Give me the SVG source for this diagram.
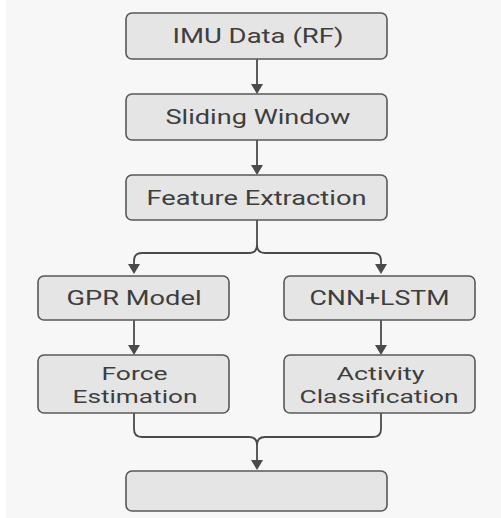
<svg xmlns="http://www.w3.org/2000/svg" width="501" height="518" viewBox="0 0 501 518">
  <style>
    .box { fill: #e5e5e5; stroke: #585858; stroke-width: 1.6; }
    .lbl { font-family: Roboto, "Liberation Sans", sans-serif; font-size: 20px; fill: #3e3e3e; text-anchor: middle; }
    .lbl2 { font-size: 19px; }
    .wire { fill: none; stroke: #4a4a4a; stroke-width: 1.8; }
    .head { fill: #4a4a4a; }
  </style>
  <rect x="0" y="0" width="501" height="518" fill="#f7f7f7"/>
  <rect x="0" y="0" width="6" height="518" fill="#ffffff"/>

  <g id="connectors">
    <path class="wire" d="M257,59 V85"/>
    <path class="head" d="M251,84 L263,84 L257,94 Z"/>
    <path class="wire" d="M257,140 V166"/>
    <path class="head" d="M251,165 L263,165 L257,175 Z"/>
    <!-- split from Feature Extraction -->
    <path class="wire" d="M257,220 V245 Q257,253 249,253 H142 Q134,253 134,261 V265"/>
    <path class="wire" d="M257,245 Q257,253 265,253 H373 Q381,253 381,261 V265"/>
    <path class="head" d="M128,264 L140,264 L134,274 Z"/>
    <path class="head" d="M375,264 L387,264 L381,274 Z"/>
    <!-- models to results -->
    <path class="wire" d="M134,320 V346"/>
    <path class="head" d="M128,345 L140,345 L134,355 Z"/>
    <path class="wire" d="M381,320 V346"/>
    <path class="head" d="M375,345 L387,345 L381,355 Z"/>
    <!-- merge into final -->
    <path class="wire" d="M134,413 V429 Q134,437 142,437 H249 Q257,437 257,445 V461"/>
    <path class="wire" d="M381,413 V429 Q381,437 373,437 H265 Q257,437 257,445"/>
    <path class="head" d="M251,460 L263,460 L257,470 Z"/>
  </g>

  <g id="imu-data">
    <rect class="box" x="126" y="13" width="261" height="46" rx="6"/>
    <text class="lbl" x="258" y="42.5" textLength="171" lengthAdjust="spacingAndGlyphs">IMU Data (RF)</text>
  </g>
  <g id="sliding-window">
    <rect class="box" x="126" y="94" width="261" height="46" rx="6"/>
    <text class="lbl" x="258" y="123.5" textLength="185" lengthAdjust="spacingAndGlyphs">Sliding Window</text>
  </g>
  <g id="feature-extraction">
    <rect class="box" x="126" y="175" width="261" height="45" rx="6"/>
    <text class="lbl" x="256.5" y="205" textLength="220" lengthAdjust="spacingAndGlyphs">Feature Extraction</text>
  </g>
  <g id="gpr-model">
    <rect class="box" x="38" y="276" width="191" height="44" rx="6"/>
    <text class="lbl" x="134" y="305" textLength="135" lengthAdjust="spacingAndGlyphs">GPR Model</text>
  </g>
  <g id="cnn-lstm">
    <rect class="box" x="284" y="276" width="191" height="44" rx="6"/>
    <text class="lbl" x="379.5" y="305" textLength="140" lengthAdjust="spacingAndGlyphs">CNN+LSTM</text>
  </g>
  <g id="force-estimation">
    <rect class="box" x="38" y="355" width="191" height="58" rx="6"/>
    <text class="lbl lbl2" x="134.5" y="380" textLength="66" lengthAdjust="spacingAndGlyphs">Force</text>
    <text class="lbl lbl2" x="135" y="402.7" textLength="125" lengthAdjust="spacingAndGlyphs">Estimation</text>
  </g>
  <g id="activity-classification">
    <rect class="box" x="284" y="355" width="191" height="58" rx="6"/>
    <text class="lbl lbl2" x="380.5" y="380" textLength="88" lengthAdjust="spacingAndGlyphs">Activity</text>
    <text class="lbl lbl2" x="379" y="402.7" textLength="159" lengthAdjust="spacingAndGlyphs">Classification</text>
  </g>
  <g id="output">
    <rect class="box" x="126" y="471" width="261" height="40" rx="6"/>
  </g>
</svg>
